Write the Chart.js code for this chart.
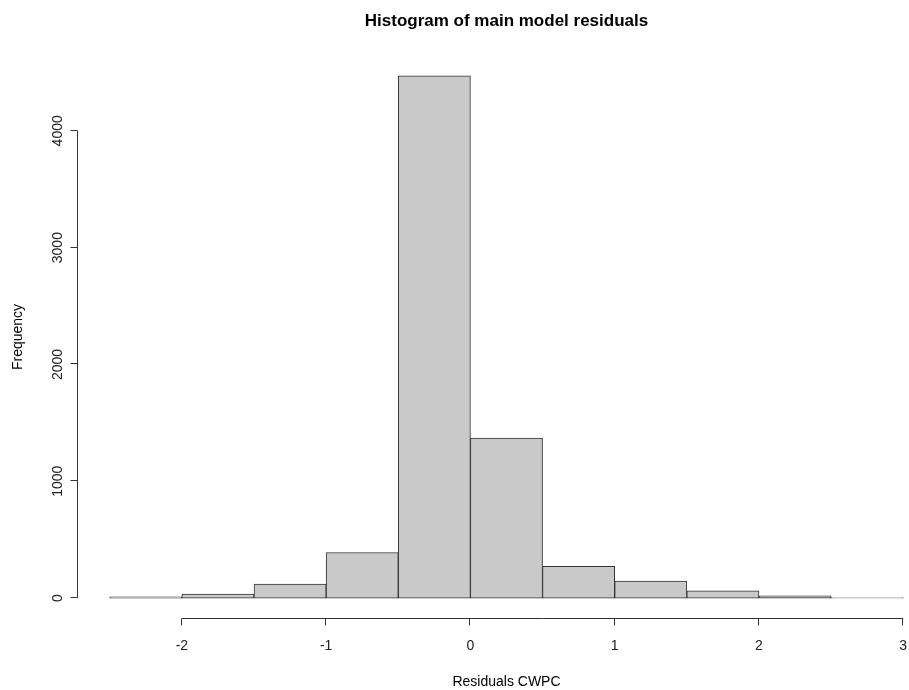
<!DOCTYPE html>
<html>
<head>
<meta charset="utf-8">
<script src="https://cdn.jsdelivr.net/npm/chart.js@4.4.0/dist/chart.umd.min.js"></script>
<style>
  html, body { margin: 0; padding: 0; background: #fff; }
  canvas { display: block; }
</style>
</head>
<body>
<canvas id="hist" width="909" height="690"></canvas>
<script>
// bin edges and counts
const binEdges = [-2.5, -2, -1.5, -1, -0.5, 0, 0.5, 1, 1.5, 2, 2.5, 3];
const counts = [10, 35, 120, 390, 4470, 1370, 272, 145, 62, 20, 5];
const xTicks = [-2, -1, 0, 1, 2, 3];
const yTicks = [0, 1000, 2000, 3000, 4000];
const title = "Histogram of main model residuals";
const xTitle = "Residuals CWPC";
const yTitle = "Frequency";

const points = counts.map((c, i) => ({ x: (binEdges[i] + binEdges[i + 1]) / 2, y: c }));
const font = "'Liberation Sans', Arial, sans-serif";

// R style axes, drawn from the chart's scales
const rAxes = {
  id: "rAxes",
  afterDraw(chart) {
    const ctx = chart.ctx;
    const xs = chart.scales.x, ys = chart.scales.y;
    const area = chart.chartArea;
    ctx.save();
    ctx.strokeStyle = "#333";
    ctx.fillStyle = "#222";
    ctx.lineWidth = 1;

    // x axis
    const axY = Math.round(area.bottom) - 0.5;
    ctx.beginPath();
    ctx.moveTo(xs.getPixelForValue(xTicks[0]), axY);
    ctx.lineTo(xs.getPixelForValue(xTicks[xTicks.length - 1]), axY);
    xTicks.forEach(t => {
      const px = Math.round(xs.getPixelForValue(t)) - 0.5;
      ctx.moveTo(px, axY);
      ctx.lineTo(px, axY + 7);
    });
    ctx.stroke();
    ctx.font = "14px " + font;
    ctx.textAlign = "center";
    ctx.textBaseline = "middle";
    xTicks.forEach(t => ctx.fillText(String(t), xs.getPixelForValue(t), axY + 28));

    // y axis
    const axX = Math.round(area.left) - 0.5;
    ctx.beginPath();
    ctx.moveTo(axX, ys.getPixelForValue(yTicks[0]));
    ctx.lineTo(axX, ys.getPixelForValue(yTicks[yTicks.length - 1]));
    yTicks.forEach(t => {
      const py = Math.round(ys.getPixelForValue(t)) - 0.5;
      ctx.moveTo(axX, py);
      ctx.lineTo(axX - 7, py);
    });
    ctx.stroke();
    yTicks.forEach(t => {
      ctx.save();
      ctx.translate(axX - 19, ys.getPixelForValue(t));
      ctx.rotate(-Math.PI / 2);
      ctx.fillText(String(t), 0, 0);
      ctx.restore();
    });

    // titles
    const midX = (area.left + xs.getPixelForValue(3.22)) / 2;
    ctx.fillStyle = "#000";
    ctx.fillText(xTitle, midX, 682);
    ctx.save();
    ctx.translate(18, (area.top + area.bottom) / 2);
    ctx.rotate(-Math.PI / 2);
    ctx.fillText(yTitle, 0, 0);
    ctx.restore();
    ctx.font = "bold 17px " + font;
    ctx.fillText(title, midX, 21);
    ctx.restore();
  }
};

new Chart(document.getElementById("hist").getContext("2d"), {
  type: "bar",
  data: {
    datasets: [{
      data: points,
      backgroundColor: "#c9c9c9",
      borderColor: "#333",
      borderWidth: 1,
      borderSkipped: false,
      barPercentage: 1,
      categoryPercentage: 1
    }]
  },
  options: {
    responsive: false,
    devicePixelRatio: 1,
    animation: false,
    layout: { padding: { left: 78, top: 55, right: 0, bottom: 71 } },
    plugins: { legend: { display: false }, title: { display: false }, tooltip: { enabled: false } },
    scales: {
      x: { type: "linear", display: false, min: -2.72, max: 3.04, offset: false },
      y: { display: false, min: -179, max: 4649 }
    }
  },
  plugins: [rAxes]
});
</script>
</body>
</html>
